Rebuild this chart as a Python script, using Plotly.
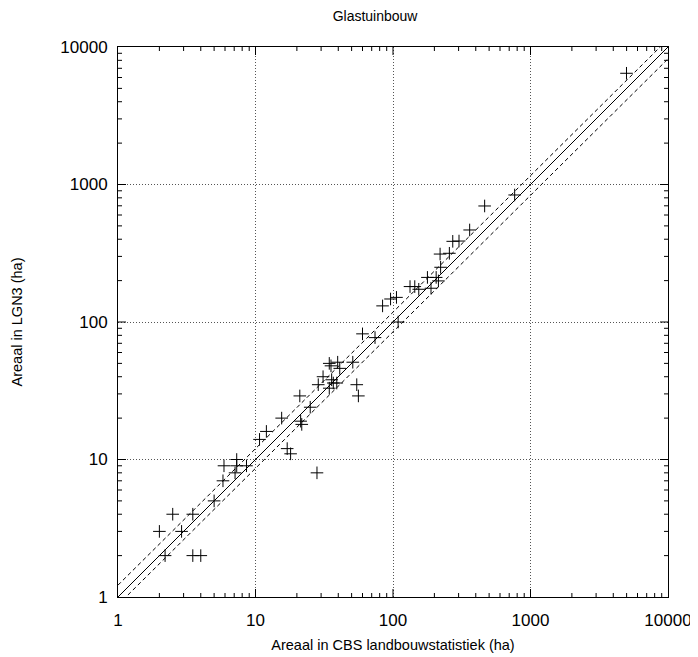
import plotly.graph_objects as go

# CBS area (x) versus LGN3 area (y), hectares
cbs_ha = [2.0, 2.2, 2.5, 2.9, 3.5, 3.5, 4.0, 5.0, 5.8, 5.9, 7.1, 7.3, 7.3, 8.6,
          10.7, 12, 15.5, 17, 18, 21, 21.3, 21.7, 25, 28.6, 31, 34.4, 35.4, 39.6,
          41, 35.8, 36.8, 39, 34.4, 51, 54.5, 56, 28, 60, 74, 84, 96, 106, 109,
          133, 144, 154, 178, 189, 206, 214, 222, 220, 257, 272, 302, 361, 464,
          767, 4990]
lgn3_ha = [3, 2, 4, 3, 4, 2, 2, 5, 7, 9, 8, 9, 10, 9,
           14, 16, 20, 12, 11, 29, 19, 18, 24, 35, 40, 50, 48, 51,
           46, 38, 36, 36, 33, 51, 35, 29, 8, 82, 77, 131, 147, 151, 100,
           181, 181, 173, 211, 176, 211, 199, 250, 312, 316, 386, 388, 467, 698,
           839, 6440]

# reference lines
ref_x = [1, 10000]
identity_y = [1, 10000]
upper_band_y = [1.22, 11400]
lower_band_y = [0.877, 8200]

tick_vals = [1, 10, 100, 1000, 10000]
tick_text = ["1", "10", "100", "1000", "10000"]
minor_tick_vals = [m * d for d in (1, 10, 100, 1000) for m in range(2, 10)]

FONT = "Liberation Sans, Arial, sans-serif"
PLOT_PX = 550.0
MAJOR_LEN = 8 / PLOT_PX
MINOR_LEN = 4 / PLOT_PX

fig = go.Figure()
fig.add_trace(go.Scatter(x=ref_x, y=identity_y, mode="lines",
                         line=dict(color="black", width=1), showlegend=False))
fig.add_trace(go.Scatter(x=ref_x, y=upper_band_y, mode="lines",
                         line=dict(color="black", width=1, dash="4px,3px"), showlegend=False))
fig.add_trace(go.Scatter(x=ref_x, y=lower_band_y, mode="lines",
                         line=dict(color="black", width=1, dash="4px,3px"), showlegend=False))
fig.add_trace(go.Scatter(x=cbs_ha, y=lgn3_ha, mode="markers",
                         marker=dict(symbol="cross-thin", size=9, color="black",
                                     line=dict(color="black", width=1)),
                         showlegend=False))

# tick marks on all four sides (gnuplot-style, inside the frame)
tick_line = dict(color="black", width=1)
for vals, ln in ((tick_vals[1:-1], MAJOR_LEN), (minor_tick_vals, MINOR_LEN)):
    for v in vals:
        fig.add_shape(type="line", xref="x", yref="paper", x0=v, x1=v, y0=0, y1=ln,
                      line=tick_line, layer="above")
        fig.add_shape(type="line", xref="x", yref="paper", x0=v, x1=v, y0=1, y1=1 - ln,
                      line=tick_line, layer="above")
        fig.add_shape(type="line", xref="paper", yref="y", y0=v, y1=v, x0=0, x1=ln,
                      line=tick_line, layer="above")
        fig.add_shape(type="line", xref="paper", yref="y", y0=v, y1=v, x0=1, x1=1 - ln,
                      line=tick_line, layer="above")

axis_common = dict(
    type="log", range=[0, 4],
    tickmode="array", tickvals=tick_vals, ticktext=tick_text,
    ticks="", showline=True, linecolor="black", linewidth=1, mirror=True,
    showgrid=True, gridcolor="#555555", griddash="1px,2px", gridwidth=1,
    zeroline=False,
    tickfont=dict(family=FONT, size=17, color="black"),
)

fig.update_layout(
    xaxis=dict(**axis_common, ticklabelstandoff=8,
               title=dict(text="Areaal in CBS landbouwstatistiek (ha)", standoff=10,
                          font=dict(family=FONT, size=14.5, color="black"))),
    yaxis=dict(**axis_common, ticklabelstandoff=6,
               title=dict(text="Areaal in LGN3 (ha)", standoff=34,
                          font=dict(family=FONT, size=14.5, color="black"))),
    width=690, height=649,
    margin=dict(l=110, r=30, t=39, b=60, autoexpand=False),
    paper_bgcolor="white", plot_bgcolor="white",
    title=dict(text="Glastuinbouw", x=0.532, xanchor="center", y=0.987, yanchor="middle",
               font=dict(family=FONT, size=14, color="black")),
)

fig.write_html("out.html")
